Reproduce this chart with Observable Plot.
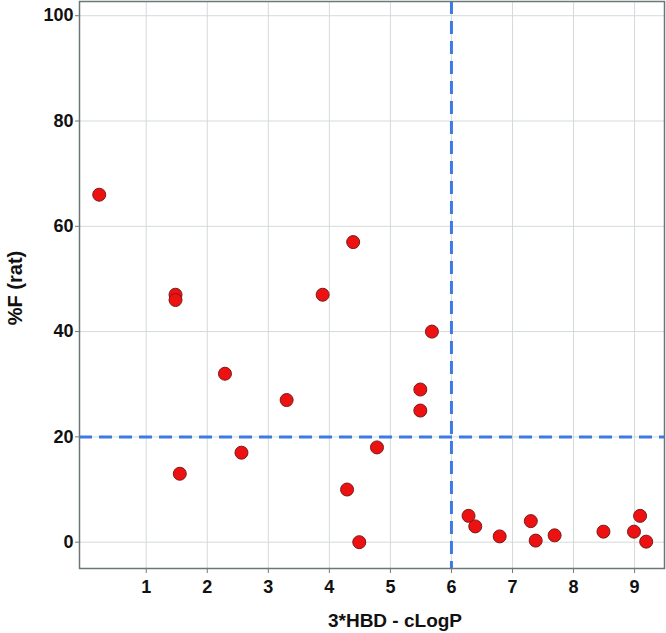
<!DOCTYPE html>
<html>
<head>
<meta charset="utf-8">
<script src="https://cdn.jsdelivr.net/npm/d3@7"></script>
<script src="https://cdn.jsdelivr.net/npm/@observablehq/plot@0.6"></script>
<style>
  html, body { margin: 0; padding: 0; background: #fff; }
</style>
</head>
<body>
<div id="chart"></div>
<script>
const xValues = [0.23, 1.48, 1.48, 1.55, 2.29, 2.56, 3.30, 3.89, 4.39, 4.29, 4.49, 4.78, 5.49, 5.49, 5.68, 6.28, 6.39, 6.79, 7.30, 7.38, 7.69, 8.49, 8.99, 9.09, 9.19];
const yValues = [66, 47, 46, 13, 32, 17, 27, 47, 57, 10, 0, 18, 29, 25, 40, 5, 3, 1.1, 4, 0.3, 1.3, 2, 2, 5, 0.1];
const xTicks = [1, 2, 3, 4, 5, 6, 7, 8, 9];
const yTicks = [0, 20, 40, 60, 80, 100];
const xThreshold = [6];
const yThreshold = [20];
const xLabel = "3*HBD - cLogP";
const yLabel = "%F (rat)";

const points = xValues.map((x, i) => ({x, y: yValues[i]}));

const chart = Plot.plot({
  width: 666,
  height: 633,
  marginLeft: 79,
  marginTop: 1,
  marginRight: 2,
  marginBottom: 65,
  style: {fontFamily: "'Liberation Sans', Arial, sans-serif", fontSize: "18px", fontWeight: "bold", color: "#111", background: "#fff"},
  x: {domain: [-0.093, 9.49], ticks: xTicks},
  y: {domain: [-5.0, 102.7], ticks: yTicks},
  marks: [
    Plot.gridX(xTicks, {stroke: "#d4dada", strokeOpacity: 1}),
    Plot.gridY(yTicks, {stroke: "#d4dada", strokeOpacity: 1}),
    Plot.ruleX(xThreshold, {stroke: "#3d7ae4", strokeWidth: 3, strokeDasharray: "13,7"}),
    Plot.ruleY(yThreshold, {stroke: "#3d7ae4", strokeWidth: 3, strokeDasharray: "13,7"}),
    Plot.frame({stroke: "#6b7777", strokeWidth: 1.5}),
    Plot.axisX(xTicks, {tickSize: 5, tickPadding: 7, stroke: "#777", label: xLabel, labelAnchor: "center", labelArrow: "none", labelOffset: 58}),
    Plot.axisY(yTicks, {tickSize: 4, tickPadding: 2, stroke: "#777", label: yLabel, labelAnchor: "center", labelArrow: "none", labelOffset: 72}),
    Plot.dot(points, {x: "x", y: "y", r: 6.5, fill: "#ee1111", stroke: "#7a1a1a", strokeWidth: 1})
  ]
});
d3.select(chart).selectAll('g[aria-label="x-axis label"] text').style("font-size", "19px").attr("dx", 23);
d3.select(chart).selectAll('g[aria-label="y-axis label"] text').style("font-size", "20px").attr("dx", -3);
document.getElementById("chart").appendChild(chart);
</script>
</body>
</html>
